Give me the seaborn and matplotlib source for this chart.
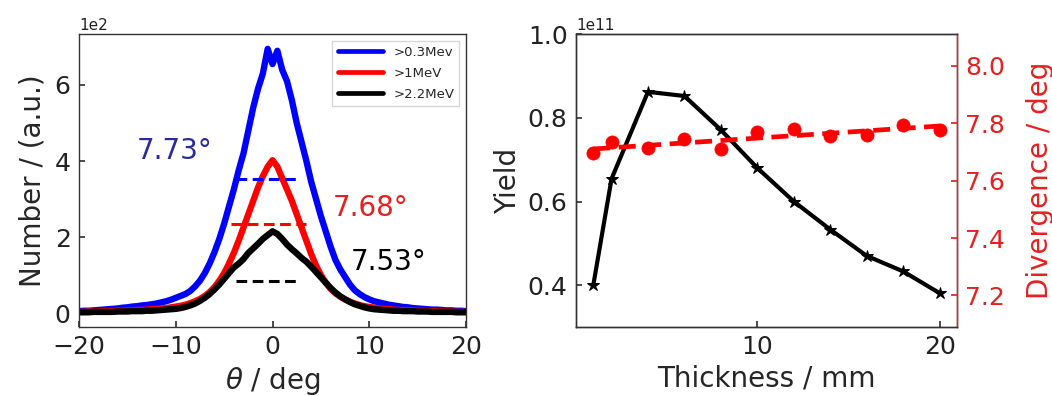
import numpy as np
import pandas as pd
import matplotlib
matplotlib.use("Agg")
import matplotlib.pyplot as plt
import seaborn as sns

# ---------------- data ----------------
theta = np.arange(-20, 20.01, 0.5)  # bin centres (deg)

# counts in units of 1e2
blue_vals = [0.05, 0.06, 0.06, 0.07, 0.08, 0.09, 0.10, 0.11, 0.12, 0.14,
             0.15, 0.17, 0.18, 0.20, 0.21, 0.23, 0.25, 0.28, 0.31, 0.35,
             0.40, 0.45, 0.50, 0.58, 0.70, 0.85, 1.05, 1.30, 1.60, 1.95,
             2.35, 2.80, 3.25, 3.75, 4.20, 4.80, 5.40, 5.90, 6.30, 6.95,
             6.55, 6.90, 6.40, 6.10, 5.60, 5.00, 4.50, 4.00, 3.45, 3.00,
             2.55, 2.15, 1.75, 1.40, 1.15, 0.95, 0.75, 0.60, 0.50, 0.42,
             0.36, 0.31, 0.28, 0.25, 0.22, 0.20, 0.18, 0.16, 0.15, 0.13,
             0.12, 0.11, 0.10, 0.09, 0.09, 0.08, 0.07, 0.07, 0.06, 0.06, 0.05]
red_vals = [0.03, 0.03, 0.04, 0.04, 0.04, 0.05, 0.05, 0.05, 0.06, 0.06,
            0.07, 0.07, 0.08, 0.08, 0.09, 0.10, 0.11, 0.12, 0.13, 0.15,
            0.17, 0.19, 0.22, 0.26, 0.31, 0.37, 0.45, 0.55, 0.68, 0.85,
            1.05, 1.30, 1.58, 1.90, 2.25, 2.60, 2.95, 3.30, 3.60, 3.85,
            4.02, 3.85, 3.55, 3.25, 2.95, 2.60, 2.25, 1.90, 1.55, 1.25,
            1.00, 0.80, 0.64, 0.52, 0.43, 0.36, 0.30, 0.25, 0.21, 0.18,
            0.16, 0.14, 0.12, 0.11, 0.10, 0.09, 0.08, 0.08, 0.07, 0.07,
            0.06, 0.06, 0.05, 0.05, 0.05, 0.04, 0.04, 0.04, 0.03, 0.03, 0.03]
black_vals = [0.02, 0.02, 0.02, 0.03, 0.03, 0.03, 0.03, 0.03, 0.04, 0.04,
              0.04, 0.05, 0.05, 0.05, 0.06, 0.06, 0.07, 0.08, 0.09, 0.10,
              0.11, 0.13, 0.16, 0.20, 0.25, 0.32, 0.40, 0.50, 0.62, 0.75,
              0.90, 1.05, 1.20, 1.30, 1.42, 1.58, 1.70, 1.82, 1.95, 2.05,
              2.15, 2.08, 1.95, 1.80, 1.68, 1.57, 1.45, 1.35, 1.22, 1.08,
              0.94, 0.80, 0.66, 0.54, 0.44, 0.36, 0.29, 0.23, 0.19, 0.15,
              0.12, 0.10, 0.09, 0.08, 0.07, 0.06, 0.06, 0.05, 0.05, 0.05,
              0.04, 0.04, 0.04, 0.03, 0.03, 0.03, 0.03, 0.03, 0.02, 0.02, 0.02]
series_labels = [">0.3Mev", ">1MeV", ">2.2MeV"]
series_colors = ["blue", "red", "black"]

# FWHM markers (half-max level in 1e2, x extent) and labels
fwhm_levels = [3.52, 2.33, 0.84]
fwhm_x0 = [-3.75, -4.3, -3.75]
fwhm_x1 = [2.8, 3.5, 2.8]
fwhm_text = ["7.73°", "7.68°", "7.53°"]
fwhm_text_pos = [(-14.0, 4.27), (6.2, 2.77), (8.1, 1.35)]
fwhm_text_colors = ["#2a2aa0", "#e52020", "black"]

# right panel
thickness = [1, 2, 4, 6, 8, 10, 12, 14, 16, 18, 20]
yield_vals = [0.40, 0.654, 0.862, 0.852, 0.771, 0.680, 0.600, 0.533, 0.470, 0.433, 0.381]  # x1e11
divergence = [7.695, 7.735, 7.715, 7.745, 7.71, 7.77, 7.78, 7.756, 7.76, 7.793, 7.776]
fit_x = [1, 20]
fit_y = [7.71, 7.79]

# ---------------- style ----------------
sns.set_theme(style="ticks")
plt.rcParams["font.family"] = ["DejaVu Sans"]
plt.rcParams.update({
    "xtick.direction": "in",
    "ytick.direction": "in",
    "axes.edgecolor": "#333333",
    "axes.linewidth": 1.0,
    "xtick.color": "#333333",
    "ytick.color": "#333333",
    "xtick.labelcolor": "#222222",
    "ytick.labelcolor": "#222222",
})

TICK = 18
LAB = 20

fig = plt.figure(figsize=(10.52, 3.96), dpi=100)
ax1 = fig.add_axes([0.0751, 0.174, 0.3679, 0.740])
ax2 = fig.add_axes([0.5475, 0.174, 0.3622, 0.740])

# ---------------- left panel ----------------
for vals, lab, col in zip([blue_vals, red_vals, black_vals], series_labels, series_colors):
    df = pd.DataFrame({"theta": theta, "N": np.array(vals) * 100})
    sns.lineplot(data=df, x="theta", y="N", ax=ax1, color=col, lw=4.6,
                 label=lab, estimator=None, sort=False)

for lev, x0, x1, col in zip(fwhm_levels, fwhm_x0, fwhm_x1, series_colors):
    df = pd.DataFrame({"x": [x0, x1], "y": [lev * 100, lev * 100]})
    sns.lineplot(data=df, x="x", y="y", ax=ax1, color=col, lw=2.2,
                 linestyle=(0, (3.5, 1.8)), estimator=None, legend=False)

for txt, (tx, ty), col in zip(fwhm_text, fwhm_text_pos, fwhm_text_colors):
    ax1.text(tx, ty * 100, txt, color=col, fontsize=LAB, ha="left", va="center")

ax1.set_xlim(-20, 20)
ax1.set_ylim(-37, 734)
ax1.set_xticks([-20, -10, 0, 10, 20])
ax1.set_yticks([0, 200, 400, 600])
ax1.ticklabel_format(axis="y", style="sci", scilimits=(2, 2))
ax1.yaxis.get_offset_text().set_fontsize(11)
ax1.tick_params(labelsize=TICK, length=4, pad=6)
ax1.set_xlabel(r"$\theta$ / deg", fontsize=LAB, labelpad=4)
ax1.set_ylabel("Number / (a.u.)", fontsize=LAB, labelpad=6)
leg = ax1.legend(loc="upper right", fontsize=9.5, handlelength=3.4,
                 labelspacing=0.6, frameon=True, fancybox=False,
                 borderaxespad=0.5)
leg.get_frame().set_edgecolor("#cccccc")
for h in leg.get_lines():
    h.set_linewidth(3.4)

# ---------------- right panel ----------------
dfy = pd.DataFrame({"t": thickness, "Y": np.array(yield_vals) * 1e11})
sns.lineplot(data=dfy, x="t", y="Y", ax=ax2, color="black", lw=3,
             marker="*", markersize=9, markeredgecolor="black",
             estimator=None, sort=False)
ax2.set_xlim(0.05, 20.95)
ax2.set_ylim(0.3e11, 1.0e11)
ax2.set_xticks([10, 20])
ax2.set_yticks([0.4e11, 0.6e11, 0.8e11, 1.0e11])
ax2.yaxis.get_offset_text().set_fontsize(11)
ax2.tick_params(labelsize=TICK, length=4, pad=6)
ax2.set_xlabel("Thickness / mm", fontsize=LAB, labelpad=4)
ax2.set_ylabel("Yield", fontsize=LAB, labelpad=4)

ax3 = ax2.twinx()
dfd = pd.DataFrame({"t": thickness, "D": divergence})
sns.scatterplot(data=dfd, x="t", y="D", ax=ax3, color="red", s=90,
                edgecolor="red", linewidth=0.5, zorder=3)
dff = pd.DataFrame({"t": fit_x, "D": fit_y})
sns.lineplot(data=dff, x="t", y="D", ax=ax3, color="red", lw=3.4,
             linestyle=(0, (3.6, 1.8)), estimator=None)
ax3.set_ylim(7.09, 8.11)
ax3.set_yticks([7.2, 7.4, 7.6, 7.8, 8.0])
ax3.tick_params(axis="y", labelsize=TICK, length=4, pad=6, colors="#e52020",
                labelcolor="#e52020")
ax3.spines["right"].set_color("#e52020")
ax3.set_ylabel("Divergence / deg", fontsize=LAB, color="#e52020", labelpad=15)
ax3.set_xlabel("")

fig.savefig("out.png", dpi=100)
